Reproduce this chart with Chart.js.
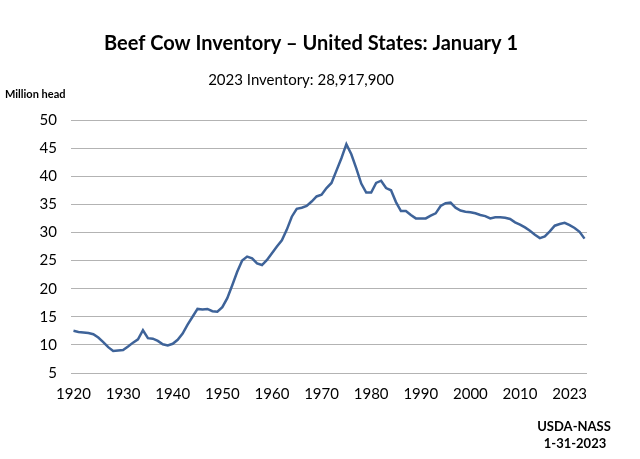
<!DOCTYPE html>
<html>
<head>
<meta charset="utf-8">
<script src="https://cdn.jsdelivr.net/npm/chart.js@4.4.0/dist/chart.umd.min.js"></script>
<style>
  body { margin: 0; background: #fff; }
  canvas { display: block; }
</style>
</head>
<body>
<canvas id="cowChart" width="640" height="459"></canvas>
<script>
// beef cows, Jan 1, million head
const years = [];
for (let y = 1920; y <= 2023; y++) years.push(String(y));

const inventory = [
  12.5, 12.3, 12.2, 12.1, 11.9, 11.3, 10.5, 9.6, 8.9, 9.0,
  9.1, 9.7, 10.4, 11.0, 12.6, 11.2, 11.1, 10.7, 10.1, 9.9,
  10.2, 10.9, 12.0, 13.6, 15.0, 16.4, 16.3, 16.4, 16.0, 15.9,
  16.7, 18.3, 20.6, 23.0, 25.0, 25.7, 25.4, 24.5, 24.2, 25.1,
  26.3, 27.5, 28.6, 30.5, 32.8, 34.2, 34.4, 34.7, 35.5, 36.4,
  36.7, 37.9, 38.8, 41.0, 43.2, 45.7, 43.9, 41.4, 38.7, 37.1,
  37.1, 38.8, 39.2, 37.9, 37.5, 35.4, 33.8, 33.8, 33.1, 32.5,
  32.5, 32.5, 33.0, 33.4, 34.7, 35.2, 35.3, 34.4, 33.9, 33.7,
  33.6, 33.4, 33.1, 32.9, 32.5, 32.7, 32.7, 32.6, 32.4, 31.8,
  31.4, 30.9, 30.3, 29.6, 29.0, 29.3, 30.2, 31.2, 31.5, 31.7,
  31.3, 30.8, 30.1, 28.9
];

// labels shown every 10th category (the last one reads 2023 in the original)
const xTickLabels = ["1920", "1930", "1940", "1950", "1960", "1970", "1980", "1990", "2000", "2010", "2023"];

const FONT = "Lato, 'Open Sans', sans-serif";

const textPlugin = {
  id: "texts",
  afterDraw(chart) {
    const ctx = chart.ctx;
    ctx.save();
    ctx.fillStyle = "#000";
    ctx.textBaseline = "middle";

    ctx.textAlign = "center";
    ctx.font = "bold 20px " + FONT;
    ctx.fillText("Beef Cow Inventory \u2013 United States: January 1", 311, 44);

    ctx.font = "15px " + FONT;
    ctx.fillText("2023 Inventory: 28,917,900", 301, 80);

    ctx.textAlign = "left";
    ctx.font = "bold 11px " + FONT;
    ctx.fillText("Million head", 5, 94);

    ctx.textAlign = "center";
    ctx.font = "bold 13px " + FONT;
    ctx.fillText("USDA-NASS", 574, 427);
    ctx.fillText("1-31-2023", 575, 444);
    ctx.restore();
  }
};

const ctx = document.getElementById("cowChart").getContext("2d");
const myChart = new Chart(ctx, {
  type: "line",
  data: {
    labels: years,
    datasets: [
      {
        data: inventory,
        borderColor: "#3E6399",
        borderWidth: 2.5,
        pointRadius: 0,
        tension: 0,
        fill: false,
      },
    ],
  },
  options: {
    responsive: false,
    animation: false,
    layout: { padding: { top: 120, right: 53, left: 0, bottom: 0 } },
    plugins: {
      legend: { display: false },
      tooltip: { enabled: false },
    },
    scales: {
      x: {
        type: "category",
        offset: true,
        grid: { display: false, drawTicks: false },
        border: { display: false },
        ticks: {
          autoSkip: false,
          maxRotation: 0,
          padding: 12,
          color: "#000",
          font: { family: FONT, size: 15 },
          callback: function (val, i) {
            return i % 10 === 0 ? xTickLabels[i / 10] : null;
          },
        },
        afterFit: function (scale) { scale.height = 86; },
      },
      y: {
        min: 5,
        max: 50,
        grid: { color: "#B3B3B3", lineWidth: 1, drawTicks: false },
        border: { display: false },
        ticks: {
          stepSize: 5,
          padding: 14,
          color: "#000",
          font: { family: FONT, size: 15 },
        },
        afterFit: function (scale) { scale.width = 71; },
      },
    },
  },
  plugins: [textPlugin],
});
</script>
</body>
</html>
